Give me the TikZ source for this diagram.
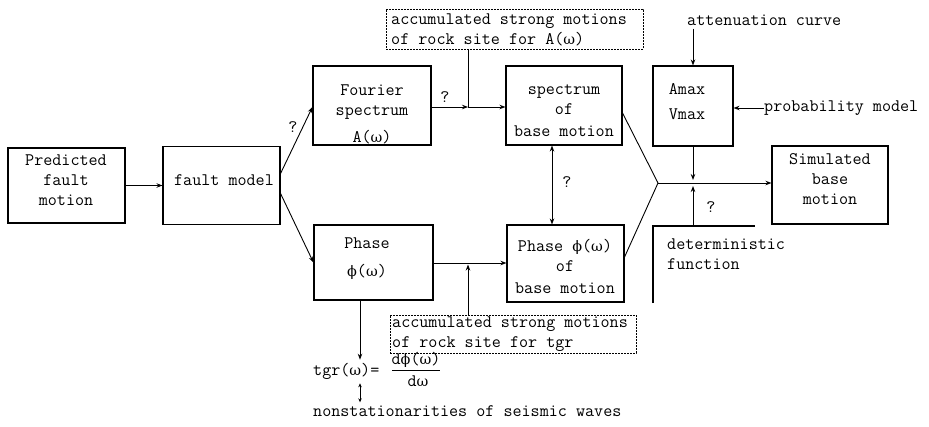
\documentclass[tikz,border=0pt]{standalone}
\usepackage{fontspec}
\usetikzlibrary{arrows.meta}
\newfontfamily\gkfont{DejaVu Serif}[Scale=0.82]
\newcommand{\om}{{\gkfont ω}}
\newcommand{\ph}{{\gkfont ϕ}}
\begin{document}
\begin{tikzpicture}[x=1pt,y=-1pt,
  every node/.style={font=\ttfamily\fontsize{17.6}{20}\selectfont},
  box/.style={draw, line width=1.1pt, inner sep=0pt},
  dbox/.style={draw, dashed, dash pattern=on 2pt off 1pt, line width=0.8pt, inner sep=0pt},
  txt/.style={inner sep=0pt, align=center},
  ltxt/.style={inner sep=0pt, align=left, anchor=west},
  q/.style={inner sep=0pt},
  conn/.style={line width=0.9pt},
  arr/.style={conn, -{Stealth[length=6pt,width=4.5pt]}},
  arrr/.style={conn, {Stealth[length=6pt,width=4.5pt]}-{Stealth[length=6pt,width=4.5pt]}},
  small arr/.style={conn, {Stealth[length=4pt,width=3.5pt]}-{Stealth[length=4pt,width=3.5pt]}}]
\useasboundingbox (0,0) rectangle (929,426);

% boxes
\node[box, minimum width=117pt, minimum height=75pt] (pred) at (66.5,185.5) {};
\node[box, minimum width=117pt, minimum height=78pt] (fault) at (221.5,185.5) {};
\node[box, minimum width=118pt, minimum height=79pt] (four) at (372,105.5) {};
\node[box, minimum width=116pt, minimum height=79pt] (spec) at (564,105.5) {};
\node[box, minimum width=80pt, minimum height=80pt] (amax) at (693,106) {};
\node[box, minimum width=116pt, minimum height=78pt] (sim) at (830,185) {};
\node[box, minimum width=119pt, minimum height=75pt] (phase) at (373.5,262.5) {};
\node[box, minimum width=117pt, minimum height=77pt] (phb) at (565.5,263.5) {};
\node[dbox, minimum width=257pt, minimum height=40pt] (topd) at (514.5,29) {};
\node[dbox, minimum width=246pt, minimum height=38pt] (botd) at (513,334) {};

% box texts
\node[txt] (predt) at (66,180) {Predicted\\fault\\motion};
\node[txt] (faultt) at (224,180) {fault model};
\node[txt] (fourt) at (372,114) {Fourier\\spectrum\\[7pt]A(\om)};
\node[txt] (spect) at (564,111) {spectrum\\of\\[2pt]base motion};
\node[txt] (amaxt) at (687,102) {Amax\\[5pt]Vmax};
\node[txt] (simt) at (830,179) {Simulated\\base\\motion};
\node[txt] (phaset) at (367,259) {Phase\\[8pt]\ph(\om)};
\node[txt] (phbt) at (565,266) {Phase \ph(\om)\\of\\[2pt]base motion};
\node[ltxt] (topdt) at (391,29.5) {accumulated strong motions\\of rock site for A(\om)};
\node[ltxt] (botdt) at (392,334) {accumulated strong motions\\of rock site for tgr};

% free texts
\node[ltxt] (att) at (687,20) {attenuation curve};
\node[ltxt] (prob) at (764,108) {probability model};
\node[ltxt] (dett) at (667,254) {deterministic\\function};
\node[ltxt] (tgr) at (313,371) {tgr(\om)=};
\node[q] (num) at (416,360) {d\ph(\om)};
\node[q] (den) at (418,381) {d\om};
\draw[line width=0.7pt] (392,370.5) -- (440,370.5);
\node[ltxt] (nonst) at (313,411) {nonstationarities of seismic waves};

% question marks
\node[q] (q1) at (293,127) {?};
\node[q] (q2) at (445,97) {?};
\node[q] (q3) at (567,182) {?};
\node[q] (q4) at (711,207) {?};

% coordinates
\coordinate (jA) at (468,107);
\coordinate (jB) at (468,263);
\coordinate (J) at (658,183);
\coordinate (xs) at (552,0);
\coordinate (xt) at (360,0);
\coordinate (xa) at (693,0);
\coordinate (dtl) at (653,226);
\coordinate (dbl) at (653,303);
\coordinate (dtr) at (755,226);

% connectors
\draw[arr] (pred.east) -- (fault.west);
\draw[arr] ([yshift=12pt]fault.east) -- ([yshift=-1.5pt]four.west);
\draw[arr] ([yshift=-8pt]fault.east) -- (phase.west);
\draw[arr] (four.east |- jA) -- (jA);
\draw[conn] (topd.south -| jA) -- (jA);
\draw[arr] (jA) -- (spec.west |- jA);
\draw[arrr] (spec.south -| xs) -- (phb.north -| xs);
\draw[arr] (phase.east |- jB) -- (phb.west |- jB);
\draw[arr, shorten >=1.5pt] (botd.north -| jB) -- (jB);
\draw[arr] (phase.south -| xt) -- ([yshift=3pt]tgr.north -| xt);
\draw[small arr] ([yshift=-4pt]tgr.south -| xt) -- ([yshift=3pt]nonst.north -| xt);
\draw[arr] ([yshift=-3pt]att.south -| xa) -- (amax.north);
\draw[arr] (prob.west) -- (amax.east |- prob.west);
\draw[conn] ([yshift=-7.5pt]spec.east) -- (J);
\draw[conn] ([yshift=6.5pt]phb.east) -- (J);
\draw[arr] (J) -- (sim.west |- J);
\draw[arr, shorten >=3pt] (amax.south) -- (J -| xa);
\draw[arr, shorten >=3pt] (dtl -| xa) -- (J -| xa);
\draw[line width=1.1pt] (dbl) -- (dtl) -- (dtr);
\end{tikzpicture}
\end{document}
